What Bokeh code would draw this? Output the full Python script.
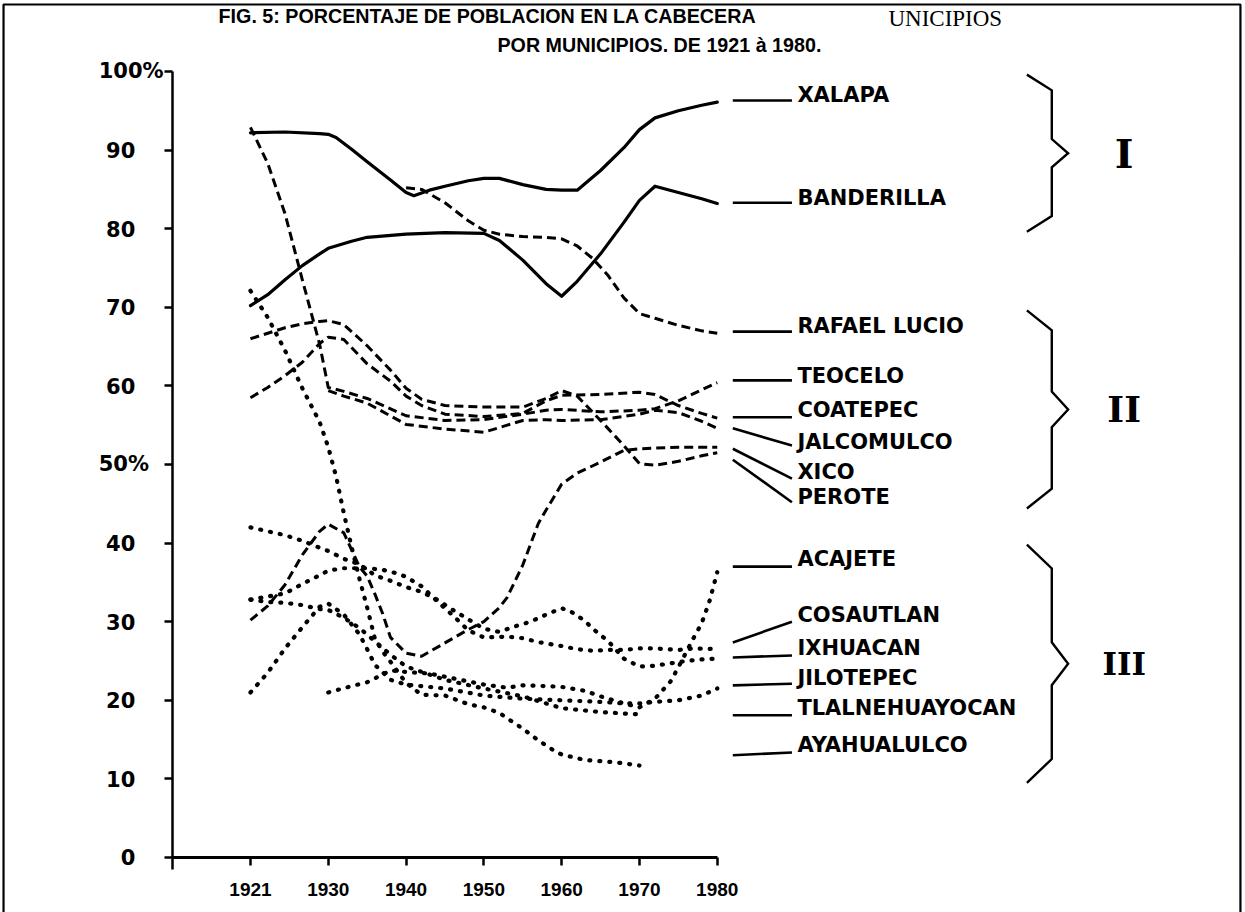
from bokeh.plotting import figure
from bokeh.models import Range1d, FixedTicker, Label
from bokeh.core.properties import value
from bokeh.embed import file_html
from bokeh.resources import INLINE

# ---------------- data (percent of population living in the cabecera) ----------------
xalapa_years = [1921, 1925, 1929, 1930, 1931, 1933, 1935, 1938, 1940, 1941, 1943, 1945, 1948, 1950, 1952, 1955, 1958, 1960, 1962, 1965, 1968, 1970, 1972, 1975, 1978, 1980]
xalapa_pct   = [92.2, 92.3, 92.1, 92.0, 91.6, 90.1, 88.5, 86.2, 84.6, 84.2, 84.9, 85.4, 86.1, 86.4, 86.4, 85.6, 85.0, 84.9, 84.9, 87.4, 90.3, 92.6, 94.1, 95.0, 95.7, 96.1]

banderilla_years = [1921, 1923, 1925, 1927, 1929, 1930, 1933, 1935, 1940, 1945, 1950, 1952, 1955, 1958, 1960, 1962, 1965, 1968, 1970, 1972, 1975, 1978, 1980]
banderilla_pct   = [70.2, 71.6, 73.5, 75.3, 76.8, 77.5, 78.4, 78.9, 79.3, 79.5, 79.4, 78.5, 76.0, 73.0, 71.4, 73.3, 76.8, 80.8, 83.6, 85.4, 84.6, 83.8, 83.2]

rafael_lucio_years = [1940, 1942, 1945, 1948, 1950, 1952, 1955, 1958, 1960, 1962, 1964, 1966, 1968, 1970, 1972, 1975, 1978, 1980]
rafael_lucio_pct   = [85.2, 85.0, 83.3, 81.0, 79.8, 79.3, 79.0, 78.9, 78.7, 77.8, 76.2, 74.0, 71.2, 69.2, 68.6, 67.7, 67.0, 66.7]

teocelo_years = [1921, 1923, 1925, 1927, 1929, 1930, 1932, 1935, 1940, 1945, 1950, 1955, 1958, 1960, 1965, 1970, 1972, 1975, 1978, 1980]
teocelo_pct   = [92.9, 88.3, 81.9, 73.5, 65.3, 59.8, 59.3, 58.4, 56.2, 55.6, 55.7, 56.4, 56.9, 57.0, 56.7, 56.9, 57.1, 58.1, 59.5, 60.4]

coatepec_years = [1921, 1923, 1925, 1927, 1929, 1930, 1932, 1935, 1938, 1940, 1942, 1945, 1950, 1955, 1958, 1960, 1965, 1970, 1972, 1975, 1978, 1980]
coatepec_pct   = [58.5, 59.8, 61.3, 63.0, 65.4, 66.2, 65.9, 62.8, 60.6, 58.7, 57.5, 56.4, 56.1, 56.5, 58.1, 58.8, 58.9, 59.2, 58.9, 57.5, 56.5, 55.9]

jalcomulco_years = [1930, 1932, 1935, 1940, 1945, 1950, 1953, 1955, 1958, 1960, 1965, 1970, 1972, 1975, 1978, 1980]
jalcomulco_pct   = [59.4, 58.7, 57.8, 55.1, 54.5, 54.1, 55.0, 55.6, 55.7, 55.6, 55.7, 56.4, 56.9, 56.6, 55.5, 54.6]

xico_years = [1921, 1923, 1925, 1927, 1929, 1930, 1932, 1934, 1935, 1936, 1937, 1938, 1940, 1942, 1945, 1948, 1950, 1952, 1953, 1955, 1957, 1958, 1960, 1962, 1965, 1968, 1970, 1975, 1980]
xico_pct   = [30.2, 32.0, 34.7, 38.5, 41.5, 42.4, 41.3, 37.0, 35.8, 33.5, 31.0, 28.0, 26.0, 25.6, 27.3, 29.0, 30.0, 31.8, 33.1, 37.2, 42.5, 44.2, 47.5, 48.9, 50.3, 51.8, 52.0, 52.2, 52.2]

perote_years = [1921, 1923, 1925, 1927, 1929, 1930, 1932, 1935, 1938, 1940, 1942, 1945, 1950, 1955, 1958, 1960, 1962, 1965, 1968, 1970, 1972, 1975, 1978, 1980]
perote_pct   = [66.0, 66.7, 67.4, 67.9, 68.2, 68.3, 67.8, 65.1, 62.0, 59.7, 58.3, 57.5, 57.3, 57.3, 58.4, 59.4, 58.7, 55.6, 52.4, 50.1, 49.9, 50.4, 51.1, 51.5]

acajete_years = [1930, 1933, 1935, 1938, 1940, 1943, 1945, 1948, 1950, 1953, 1955, 1958, 1960, 1963, 1965, 1968, 1970, 1972, 1974, 1975, 1976, 1977, 1978, 1979, 1980]
acajete_pct   = [21.0, 21.8, 22.3, 23.8, 23.6, 23.4, 23.0, 22.4, 22.0, 21.6, 21.9, 21.8, 21.7, 21.2, 20.5, 19.6, 19.1, 20.2, 22.4, 24.2, 26.1, 28.0, 29.8, 32.6, 36.3]

cosautlan_years = [1921, 1923, 1925, 1927, 1929, 1930, 1932, 1935, 1937, 1939, 1940, 1942, 1944, 1946, 1948, 1950, 1953, 1955, 1957, 1960, 1962, 1964, 1966, 1968, 1970, 1972, 1975, 1977, 1980]
cosautlan_pct   = [32.8, 33.2, 33.6, 34.8, 35.9, 36.5, 36.8, 36.8, 36.6, 36.1, 35.7, 34.5, 32.6, 30.8, 28.9, 28.0, 28.1, 27.9, 27.4, 26.9, 26.5, 26.3, 26.4, 26.4, 26.6, 26.6, 26.4, 26.6, 26.5]

ixhuacan_years = [1921, 1923, 1925, 1927, 1929, 1930, 1932, 1934, 1936, 1938, 1940, 1942, 1944, 1946, 1948, 1950, 1952, 1954, 1956, 1958, 1960, 1961, 1963, 1964, 1966, 1968, 1970, 1972, 1974, 1976, 1978, 1980]
ixhuacan_pct   = [42.0, 41.5, 41.0, 40.3, 39.4, 39.0, 38.0, 37.3, 35.9, 35.2, 34.4, 33.8, 32.8, 31.5, 30.3, 29.1, 28.7, 29.4, 30.0, 30.9, 31.7, 31.4, 30.1, 29.1, 27.5, 25.3, 24.3, 24.4, 24.7, 25.0, 25.2, 25.3]

jilotepec_years = [1921, 1923, 1925, 1927, 1929, 1930, 1932, 1934, 1935, 1936, 1938, 1940, 1945, 1950, 1955, 1960, 1965, 1968, 1970, 1972, 1975, 1978, 1980]
jilotepec_pct   = [21.0, 23.5, 26.6, 29.3, 31.9, 32.3, 30.9, 28.4, 26.5, 24.5, 22.6, 22.0, 21.5, 20.6, 20.2, 20.0, 19.8, 19.6, 19.6, 19.8, 20.0, 20.6, 21.5]

tlalnehuayocan_years = [1921, 1923, 1925, 1927, 1929, 1930, 1932, 1934, 1936, 1938, 1940, 1945, 1950, 1955, 1960, 1965, 1970]
tlalnehuayocan_pct   = [32.8, 32.5, 32.4, 32.1, 31.6, 31.5, 30.5, 29.2, 27.5, 25.8, 24.3, 22.6, 21.5, 20.5, 19.0, 18.5, 18.2]

ayahualulco_years = [1921, 1923, 1925, 1927, 1929, 1930, 1931, 1932, 1933, 1934, 1935, 1936, 1937, 1938, 1940, 1942, 1945, 1948, 1950, 1952, 1953, 1955, 1957, 1959, 1960, 1963, 1967, 1970]
ayahualulco_pct   = [72.1, 68.7, 64.5, 59.7, 55.4, 52.2, 48.5, 43.8, 39.5, 35.5, 31.8, 27.8, 26.2, 24.9, 22.2, 20.7, 20.6, 19.5, 19.1, 18.4, 17.7, 16.4, 14.9, 13.6, 13.1, 12.4, 12.1, 11.7]

municipios = ["XALAPA", "BANDERILLA", "RAFAEL LUCIO", "TEOCELO", "COATEPEC", "JALCOMULCO", "XICO",
              "PEROTE", "ACAJETE", "COSAUTLAN", "IXHUACAN", "JILOTEPEC", "TLALNEHUAYOCAN", "AYAHUALULCO"]
grupo = ["I", "I", "II", "II", "II", "II", "II", "II", "III", "III", "III", "III", "III", "III"]
series_years = [xalapa_years, banderilla_years, rafael_lucio_years, teocelo_years, coatepec_years,
                jalcomulco_years, xico_years, perote_years, acajete_years, cosautlan_years,
                ixhuacan_years, jilotepec_years, tlalnehuayocan_years, ayahualulco_years]
series_pct = [xalapa_pct, banderilla_pct, rafael_lucio_pct, teocelo_pct, coatepec_pct,
              jalcomulco_pct, xico_pct, perote_pct, acajete_pct, cosautlan_pct,
              ixhuacan_pct, jilotepec_pct, tlalnehuayocan_pct, ayahualulco_pct]

x_ticks = [1921, 1930, 1940, 1950, 1960, 1970, 1980]
x_tick_labels = ["1921", "1930", "1940", "1950", "1960", "1970", "1980"]
y_ticks = [0, 10, 20, 30, 40, 50, 60, 70, 80, 90, 100]
y_tick_labels = ["0", "10", "20", "30", "40", "50%", "60", "70", "80", "90", "100%"]

# ---------------- layout (positions / styles) ----------------
def xpos(year):
    # the original axis spaces 1921 one full decade before 1930
    return 1920 + (year - 1921) * 10.0 / 9.0 if year < 1930 else year

label_text_y = [96.95, 83.9, 67.6, 61.3, 56.9, 52.8, 49.0, 45.8, 38.0, 30.8, 26.7, 22.8, 19.0, 14.25]
leader_y0 = [96.3, 83.3, 66.9, 60.7, 56.0, 54.6, 52.0, 50.6, 37.0, 27.35, 25.45, 21.9, 18.1, 13.0]
leader_y1 = [96.3, 83.3, 66.9, 60.7, 56.0, 52.4, 48.2, 45.2, 37.0, 30.0, 25.7, 22.1, 18.1, 13.36]

W, H = 1245, 912
X0, X1 = 1887.87, 2047.90
Y0, Y1 = -7.0, 109.03
p = figure(width=W, height=H, output_backend="svg", toolbar_location=None,
           x_range=Range1d(X0, X1), y_range=Range1d(Y0, Y1),
           min_border=0, background_fill_color="white", border_fill_color="white")
p.xgrid.visible = False
p.ygrid.visible = False
p.outline_line_color = None

# page frame of the scanned figure (left, top, right edges)
p.line([1888.26, 1888.26, 2047.25, 2047.25], [-8.0, 108.52, 108.52, -8.0],
       line_color="black", line_width=2.2)

xa = p.xaxis[0]
xa.fixed_location = 0
xa.bounds = (1910, 1980)
xa.ticker = FixedTicker(ticks=[xpos(t) for t in x_ticks])
xa.major_label_overrides = {xpos(t): s for t, s in zip(x_ticks, x_tick_labels)}
xa.axis_line_width = 3
xa.major_tick_line_width = 2.5
xa.major_tick_out = 8
xa.major_tick_in = 0
xa.minor_tick_line_color = None
xa.major_label_standoff = 18
xa.major_label_text_font = "Liberation Sans"
xa.major_label_text_font_style = "bold"
xa.major_label_text_font_size = "19px"
xa.major_label_text_color = "black"

ya = p.yaxis[0]
ya.fixed_location = 1910
ya.bounds = (-1.5, 100)
ya.ticker = FixedTicker(ticks=y_ticks)
ya.axis_line_width = 2.5
ya.major_tick_line_width = 2.5
ya.major_tick_out = 8
ya.major_tick_in = 0
ya.minor_tick_line_color = None
ya.major_label_text_color = None

# y tick labels (numbers right-aligned, the two % labels left-aligned as in the original)
num_idx = [i for i, s in enumerate(y_tick_labels) if "%" not in s]
pct_idx = [i for i, s in enumerate(y_tick_labels) if "%" in s]
p.text(x=[1905.2] * len(num_idx), y=[y_ticks[i] for i in num_idx],
       text=[y_tick_labels[i] for i in num_idx], text_align="right", text_baseline="middle",
       text_font=value("DejaVu Sans"), text_font_style="bold", text_font_size="21px", text_color="black")
p.text(x=[1900.5] * len(pct_idx), y=[y_ticks[i] for i in pct_idx],
       text=[y_tick_labels[i] for i in pct_idx], text_align="left", text_baseline="middle",
       text_font=value("DejaVu Sans"), text_font_style="bold", text_font_size="21px", text_color="black")

styles = {
    "I": dict(line_width=3.2, line_join="round", line_cap="round"),
    "II": dict(line_width=3.0, line_dash="9 5", line_join="round"),
    "III": dict(line_width=4.2, line_dash="1 9", line_cap="round"),
}
for yrs, pct, g in zip(series_years, series_pct, grupo):
    p.line([xpos(y) for y in yrs], pct, line_color="black", **styles[g])

# leader lines + municipality labels
p.segment(x0=[1982.0] * len(municipios), y0=leader_y0, x1=[1989.6] * len(municipios), y1=leader_y1,
          line_color="black", line_width=2.6)
p.text(x=[1990.3] * len(municipios), y=label_text_y, text=municipios,
       text_align="left", text_baseline="middle", text_font=value("DejaVu Sans"),
       text_font_style="bold", text_font_size="21px", text_color="black")

# group braces
def brace(top, bottom, x_end=2019.8, x_stem=2023.0, x_tip=2025.1):
    mid = (top + bottom) / 2.0
    h = top - bottom
    return ([x_end, x_stem, x_stem, x_tip, x_stem, x_stem, x_end],
            [top, top - 0.1 * h, mid + 0.09 * h, mid, mid - 0.09 * h, bottom + 0.1 * h, bottom])

brace_top = [99.6, 69.6, 39.8]
brace_bottom = [79.6, 44.4, 9.5]
roman = ["I", "II", "III"]
roman_size = ["40px", "36px", "31px"]
for t, b, r, fs in zip(brace_top, brace_bottom, roman, roman_size):
    bx, by = brace(t, b)
    p.line(bx, by, line_color="black", line_width=2.4, line_join="miter")
    p.text(x=[2032.3], y=[(t + b) / 2.0], text=[r], text_align="center", text_baseline="middle",
           text_font=value("DejaVu Serif"), text_font_style="bold", text_font_size=fs, text_color="black")

# titles
p.add_layout(Label(x=1915.9, y=107.0, text="FIG. 5: PORCENTAJE DE POBLACION EN LA CABECERA",
                   text_font="Liberation Sans", text_font_style="bold", text_font_size="19.7px",
                   text_baseline="middle", text_align="left", text_color="black"))
p.add_layout(Label(x=1951.75, y=103.4, text="POR MUNICIPIOS. DE 1921 à 1980.",
                   text_font="Liberation Sans", text_font_style="bold", text_font_size="19.7px",
                   text_baseline="middle", text_align="left", text_color="black"))
p.add_layout(Label(x=2002.0, y=106.7, text="UNICIPIOS",
                   text_font="Liberation Serif", text_font_size="23px",
                   text_baseline="middle", text_align="left", text_color="black"))

open("out.html", "w").write(file_html(p, INLINE))
